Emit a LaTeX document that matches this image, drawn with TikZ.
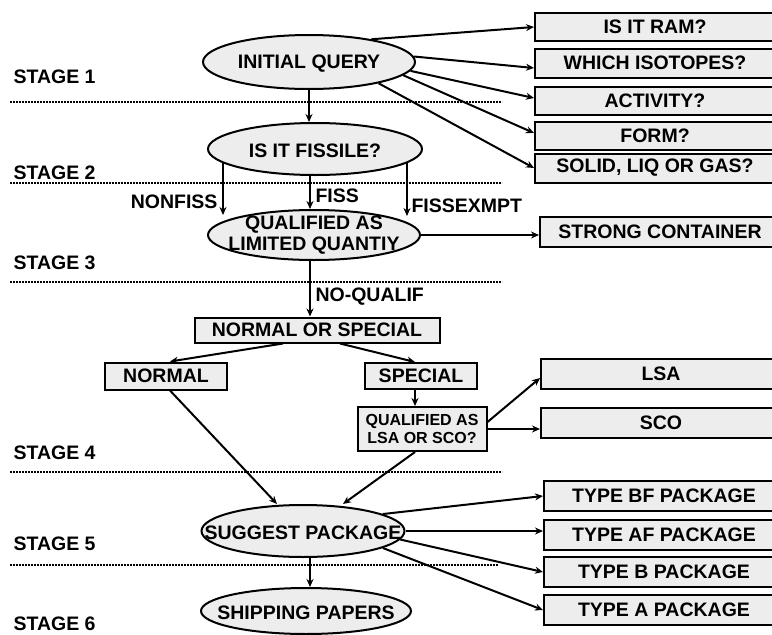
\documentclass[tikz,border=0pt]{standalone}
\usepackage{fontspec}
\setmainfont{Liberation Sans}
\usetikzlibrary{arrows.meta,shapes.geometric}

\begin{document}
\begin{tikzpicture}[x=1pt,y=-1pt,
  every node/.style={font=\bfseries\fontsize{19.5}{21}\selectfont},
  ell/.style={ellipse,draw,line width=2pt,fill=black!7,inner sep=0pt},
  elltext/.style={label={[yshift=-2pt]center:#1}},
  rbox/.style={rectangle,draw,line width=2pt,fill=black!7,anchor=west,minimum width=240pt,minimum height=29pt,inner sep=0pt},
  cbox/.style={rectangle,draw,line width=2pt,fill=black!7,inner sep=0pt},
  arr/.style={line width=2pt,-{Stealth[length=8pt,width=7pt]}},
  sepline/.style={line width=1.5pt,dash pattern=on 2pt off 1pt},
  stage/.style={anchor=west}]

\useasboundingbox (0,0) rectangle (772,635);
\clip (0,0) rectangle (772,635);

% stage separators
\draw[sepline] (10,102) -- (502,102);
\draw[sepline] (10,183) -- (502,183);
\draw[sepline] (10,282) -- (502,282);
\draw[sepline] (10,472) -- (502,472);
\draw[sepline] (10,565) -- (498,565);

% stage labels
\node[stage] (s1) at (10,77) {STAGE 1};
\node[stage] (s2) at (10,173) {STAGE 2};
\node[stage] (s3) at (10,263) {STAGE 3};
\node[stage] (s4) at (10,453) {STAGE 4};
\node[stage] (s5) at (10,544) {STAGE 5};
\node[stage] (s6) at (10,624) {STAGE 6};

% ellipses
\node[ell,minimum width=212pt,minimum height=54pt,elltext=INITIAL QUERY] (iq) at (309,62) {};
\node[ell,minimum width=214pt,minimum height=52pt,elltext=IS IT FISSILE?] (fis) at (315,149) {};
\node[ell,minimum width=212pt,minimum height=50pt,label={[align=center]center:QUALIFIED AS\\LIMITED QUANTIY}] (ql) at (314,235) {};
\node[ell,minimum width=203pt,minimum height=52pt,elltext=SUGGEST PACKAGE] (sp) at (303,531) {};
\node[ell,minimum width=210pt,minimum height=46pt,elltext=SHIPPING PAPERS] (shp) at (306,611) {};

% right boxes
\node[rbox,minimum height=28pt] (ram) at (534,27) {IS IT RAM?};
\node[rbox] (iso) at (534,63) {WHICH ISOTOPES?};
\node[rbox,minimum height=28pt] (act) at (534,101) {ACTIVITY?};
\node[rbox,minimum height=28pt] (form) at (534,136) {FORM?};
\node[rbox] (slg) at (534,168) {SOLID, LIQ OR GAS?};
\node[rbox,minimum height=30pt] (sc) at (539,232) {STRONG CONTAINER};
\node[rbox,minimum height=30pt] (lsa) at (540,374) {LSA};
\node[rbox,minimum height=30pt] (sco) at (540,423) {SCO};
\node[rbox,minimum height=30pt] (tbf) at (543,496) {TYPE BF PACKAGE};
\node[rbox,minimum height=30pt] (taf) at (543,535) {TYPE AF PACKAGE};
\node[rbox,minimum height=30pt] (tb) at (543,572) {TYPE B PACKAGE};
\node[rbox,minimum height=30pt] (ta) at (543,610) {TYPE A PACKAGE};

% centre boxes
\node[cbox,minimum width=245pt,minimum height=25pt] (nos) at (317,330) {NORMAL OR SPECIAL};
\node[cbox,minimum width=122pt,minimum height=27pt] (nor) at (166,376) {NORMAL};
\node[cbox,minimum width=112pt,minimum height=26pt] (spe) at (421,376) {SPECIAL};
\node[cbox,minimum width=129pt,minimum height=44pt,align=center,font=\bfseries\fontsize{16}{18}\selectfont] (qls) at (422,429) {QUALIFIED AS\\LSA OR SCO?};

% stage 1 arrows
\draw[arr] (iq.20) -- (ram.west);
\draw[arr] (iq.3) -- ([yshift=-5pt]iso.west);
\draw[arr] (iq.-5) -- ([yshift=3pt]act.west);
\draw[arr] (iq.-8) -- ([yshift=3pt]form.west);
\draw[arr] (iq.-17) -- (slg.west);
\draw[arr] (iq.south) -- (iq.south |- fis.north);

% stage 2 arrows
\coordinate (nf1) at (223,162);
\coordinate (nf2) at (223,215);
\coordinate (fe1) at (407,162);
\coordinate (fe2) at (407,216);
\draw[arr] (nf1) -- (nf2);
\draw[arr] ([xshift=-5pt]fis.south) -- ([xshift=-5pt]fis.south |- ql.north);
\draw[arr] (fe1) -- (fe2);
\node[anchor=east] (lnf) at (221,202) {NONFISS};
\node[anchor=west] (lf) at (312,196) {FISS};
\node[anchor=west] (lfe) at (408,206) {FISSEXMPT};

% stage 3 arrows
\draw[arr] (ql.east) -- (ql.east -| sc.west);
\draw[arr] ([xshift=-4pt]ql.south) -- ([xshift=-4pt]ql.south |- nos.north);
\node[anchor=west] (lnq) at (312,297) {NO-QUALIF};

% stage 4 arrows
\draw[arr] ([xshift=-34pt]nos.south) -- ([xshift=4pt]nor.north);
\draw[arr] ([xshift=23pt]nos.south) -- ([xshift=-6pt]spe.north);
\draw[arr] ([xshift=-6pt]spe.south) -- ([xshift=-7pt]qls.north);
\draw[arr] ([yshift=7pt]qls.east) -- ([yshift=-4pt]lsa.west);
\draw[arr] (qls.east) -- (qls.east -| sco.west);
\draw[arr] ([xshift=4pt]nor.south) -- ([xshift=-26pt]sp.north);
\draw[arr] ([xshift=-7pt]qls.south) -- ([xshift=40pt]sp.north);

% stage 5 arrows
\draw[arr] (sp.12) -- (tbf.west);
\draw[arr] (sp.east) -- (sp.east -| taf.west);
\draw[arr] (sp.-5) -- (tb.west);
\draw[arr] (sp.-12) -- (ta.west);
\draw[arr] ([xshift=7pt]sp.south) -- ([xshift=4pt]shp.north);
\end{tikzpicture}
\end{document}
